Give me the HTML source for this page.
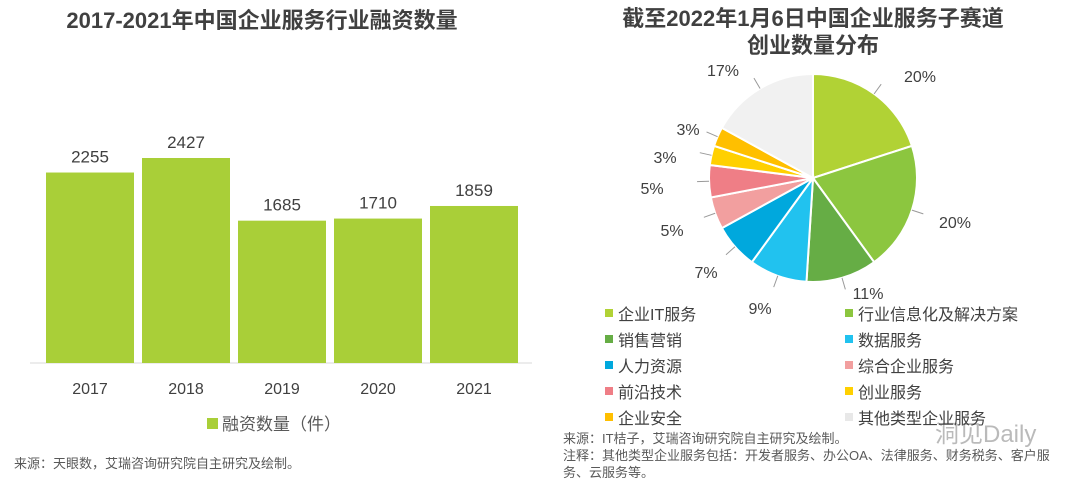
<!DOCTYPE html>
<html><head><meta charset="utf-8">
<style>
body{margin:0;width:1080px;height:482px;background:#fff;overflow:hidden;font-family:"Liberation Sans","Noto Sans CJK SC",sans-serif;}
svg{position:absolute;left:0;top:0}
</style></head><body>
<svg width="1080" height="482" id="s">
<text x="262" y="28" text-anchor="middle" font-size="22" font-weight="bold" fill="#404040">2017-2021年中国企业服务行业融资数量</text>
<text x="813" y="26" text-anchor="middle" font-size="22" font-weight="bold" fill="#404040">截至2022年1月6日中国企业服务子赛道</text>
<text x="813" y="53" text-anchor="middle" font-size="22" font-weight="bold" fill="#404040">创业数量分布</text>
<line x1="30" y1="363" x2="532" y2="363" stroke="#d9d9d9"/>
<rect x="207" y="418" width="11" height="11" fill="#a9cf38"/>
<text x="222" y="430" font-size="17" fill="#595959">融资数量（件）</text>
<text x="14" y="468" font-size="13" fill="#595959">来源：天眼数，艾瑞咨询研究院自主研究及绘制。</text>
<text x="563" y="443" font-size="13" fill="#595959">来源：IT桔子，艾瑞咨询研究院自主研究及绘制。</text>
<text x="563" y="460" font-size="13" fill="#595959">注释：其他类型企业服务包括：开发者服务、办公OA、法律服务、财务税务、客户服</text>
<text x="563" y="477" font-size="13" fill="#595959">务、云服务等。</text>
<text x="935" y="442" font-size="24" fill="#aaa" opacity="0.8">洞见Daily</text>
</svg>
<script>
const years=["2017","2018","2019","2020","2021"];
const counts=[2255,2427,1685,1710,1859];
const cats=["企业IT服务","行业信息化及解决方案","销售营销","数据服务","人力资源","综合企业服务","前沿技术","创业服务","企业安全","其他类型企业服务"];
const shares=[20,20,11,9,7,5,5,3,3,17];
const colors=["#b1d235","#8cc63f","#66ad45","#21c2ef","#00a8dd","#f29f9f","#ef7e86","#ffd000","#ffbf00","#f1f1f1"];
const NS="http://www.w3.org/2000/svg",s=document.getElementById('s');
function mk(t,a,p){const e=document.createElementNS(NS,t);for(const k in a)e.setAttribute(k,a[k]);(p||s).appendChild(e);return e;}
// bar chart
const base=363,hscale=205/2427;
const y=v=>base-v*hscale, x=i=>46+i*96;
years.forEach((yr,i)=>{
 const r=mk('rect',{x:x(i),y:y(counts[i]),width:88,height:counts[i]*hscale,fill:"#a9cf38"});
 
 
 const t=mk('text',{x:x(i)+44,y:y(counts[i])-10,'text-anchor':'middle','font-size':17,fill:'#404040'});t.textContent=counts[i];
 
 
 const l=mk('text',{x:x(i)+44,y:394,'text-anchor':'middle','font-size':16,fill:'#404040'});l.textContent=yr;
 
 
});
// pie
const cx=813,cy=178,R=104;
const tot=shares.reduce((a,b)=>a+b,0);
let acc=0;
const labelPos=[[920,82],[955,228],[868,299],[760,314],[706,278],[672,236],[652,194],[665,163],[688,135],[723,76]];
shares.forEach((v,i)=>{
 const a0=acc/tot*2*Math.PI-Math.PI/2;acc+=v;const a1=acc/tot*2*Math.PI-Math.PI/2;
 const large=(a1-a0)>Math.PI?1:0;
 const d=`M${cx},${cy}L${cx+R*Math.cos(a0)},${cy+R*Math.sin(a0)}A${R},${R} 0 ${large} 1 ${cx+R*Math.cos(a1)},${cy+R*Math.sin(a1)}Z`;
 const p=mk('path',{d,fill:colors[i],stroke:'#fff','stroke-width':2});
 
 
 const am=(a0+a1)/2;
 const lp=labelPos[i];
 const ln=mk('line',{x1:cx+R*Math.cos(am),y1:cy+R*Math.sin(am),x2:cx+(R+12)*Math.cos(am),y2:cy+(R+12)*Math.sin(am),stroke:'#999','stroke-width':1});
 
 
 const t=mk('text',{x:lp[0],y:lp[1],'text-anchor':'middle','font-size':16,fill:'#404040'});t.textContent=v+'%';
 
 
 // legend
 const col=i%2,row=Math.floor(i/2);
 const lx=col?845:605,ly=314+row*26;
 const sw=mk('rect',{x:lx,y:ly-5,width:8,height:8,fill:colors[i]==="#f1f1f1"?"#e8e8e8":colors[i]});
 
 
 const lt=mk('text',{x:lx+13,y:ly+6,'font-size':16,fill:'#404040'});lt.textContent=cats[i];
 
 
});
</script>
</body></html>
